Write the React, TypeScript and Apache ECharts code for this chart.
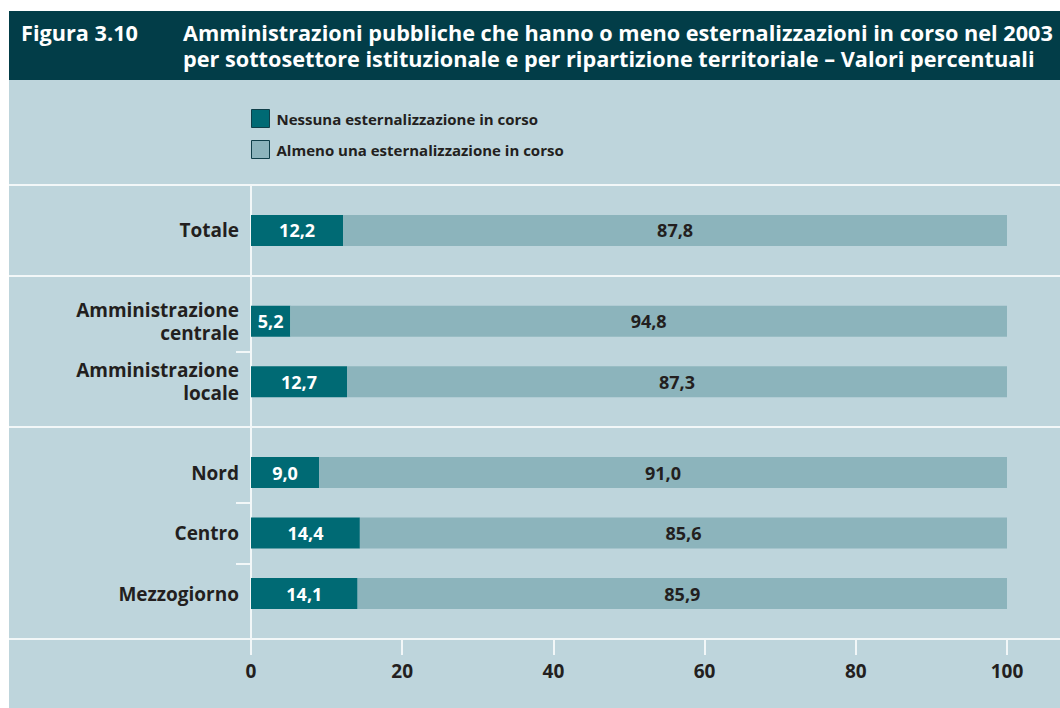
import React, { useEffect, useRef } from "react";
import * as echarts from "echarts";

// ---- data ----
const groups: string[][] = [
  ["Totale"],
  ["Amministrazione\ncentrale", "Amministrazione\nlocale"],
  ["Nord", "Centro", "Mezzogiorno"],
];
const nessuna = [12.2, 5.2, 12.7, 9.0, 14.4, 14.1];
const almeno = [87.8, 94.8, 87.3, 91.0, 85.6, 85.9];
const seriesNames = [
  "Nessuna esternalizzazione in corso",
  "Almeno una esternalizzazione in corso",
];
const xTicks = [0, 20, 40, 60, 80, 100];
const figLabel = "Figura 3.10";
const titleLines = [
  "Amministrazioni pubbliche che hanno o meno esternalizzazioni in corso nel 2003",
  "per sottosettore istituzionale e per ripartizione territoriale \u2013 Valori percentuali",
];

const FONT = "'Open Sans', 'Noto Sans', sans-serif";
const C_HEADER = "#023d48";
const C_PANEL = "#bed5dc";
const C_DARK = "#006a74";
const C_LIGHT = "#8cb4bc";
const C_LINE = "#f2f7f8";
const C_TEXT = "#231f20";

function buildSlots() {
  const slots: string[] = [];
  const slotItem: (number | null)[] = [];
  const groupStarts: number[] = [];
  const tickSlots: number[] = [];
  let k = 0;
  groups.forEach((g) => {
    groupStarts.push(slots.length);
    slots.push("_gap" + slots.length);
    slotItem.push(null);
    g.forEach((name, j) => {
      slots.push(name);
      slotItem.push(k++);
      if (j < g.length - 1) tickSlots.push(slots.length);
      slots.push("_gap" + slots.length);
      slotItem.push(null);
    });
  });
  return { slots, slotItem, groupStarts, tickSlots };
}

function measure(text: string, font: string) {
  const c = document.createElement("canvas").getContext("2d");
  if (!c) return 0;
  c.font = font;
  return c.measureText(text).width;
}

const fmt = (v: number) => v.toFixed(1).replace(".", ",");

export default function App() {
  const ref = useRef<HTMLDivElement>(null);
  useEffect(() => {
    if (!ref.current) return;
    const chart = echarts.init(ref.current, undefined, { renderer: "svg" });
    const { slots, slotItem, groupStarts, tickSlots } = buildSlots();
    const darkData = slotItem.map((i) => (i === null ? "-" : nessuna[i]));
    const lightData = slotItem.map((i) => (i === null ? "-" : almeno[i]));

    const w1 = measure(titleLines[0], `bold 20px ${FONT}`);
    let titleSize = w1 > 0 ? (20 * 870) / w1 : 19;
    titleSize = Math.max(15, Math.min(22, titleSize));

    chart.setOption({
      animation: false,
      backgroundColor: "#ffffff",
      textStyle: { fontFamily: FONT },
      legend: {
        orient: "vertical",
        left: 251,
        top: 109,
        padding: 0,
        itemWidth: 18,
        itemHeight: 18,
        itemGap: 12,
        icon: "rect",
        selectedMode: false,
        textStyle: {
          fontFamily: FONT,
          fontSize: 15,
          fontWeight: "bold",
          color: C_TEXT,
          lineHeight: 18,
          padding: [0, 0, 0, 2],
        },
        data: seriesNames.map((n) => ({
          name: n,
          itemStyle: { borderColor: "#0f3f49", borderWidth: 1 },
        })),
      },
      grid: { left: 251, right: 53, top: 185, bottom: 69, containLabel: false },
      xAxis: {
        type: "value",
        min: 0,
        max: 100,
        interval: 20,
        axisLine: { show: false },
        splitLine: { show: false },
        axisTick: { show: true, length: 16, lineStyle: { color: C_LINE, width: 2 } },
        axisLabel: {
          margin: 22,
          fontFamily: FONT,
          fontSize: 19,
          fontWeight: "bold",
          color: C_TEXT,
          formatter: (v: number) => (xTicks.includes(v) ? String(v) : ""),
        },
      },
      yAxis: {
        type: "category",
        inverse: true,
        data: slots,
        axisLine: { show: true, lineStyle: { color: C_LINE, width: 2 } },
        axisTick: {
          show: true,
          alignWithLabel: true,
          length: 15,
          interval: (i: number) => tickSlots.includes(i),
          lineStyle: { color: C_LINE, width: 2 },
        },
        axisLabel: {
          interval: 0,
          margin: 12,
          fontFamily: FONT,
          fontSize: 19,
          fontWeight: "bold",
          lineHeight: 23,
          color: C_TEXT,
          formatter: (v: string) => (v.startsWith("_gap") ? "" : v),
        },
        splitLine: { show: false },
      },
      series: [
        {
          name: seriesNames[0],
          type: "bar",
          stack: "tot",
          barWidth: 31,
          data: darkData,
          itemStyle: { color: C_DARK },
          label: {
            show: true,
            position: "inside",
            color: "#ffffff",
            fontFamily: FONT,
            fontSize: 18,
            fontWeight: "bold",
            formatter: (p: any) => fmt(p.value),
          },
        },
        {
          name: seriesNames[1],
          type: "bar",
          stack: "tot",
          barWidth: 31,
          data: lightData,
          itemStyle: { color: C_LIGHT },
          label: {
            show: true,
            position: "inside",
            color: C_TEXT,
            fontFamily: FONT,
            fontSize: 18,
            fontWeight: "bold",
            formatter: (p: any) => fmt(p.value),
          },
        },
      ],
    });

    // separator lines spanning the full panel, derived from category band positions
    const p0 = chart.convertToPixel({ yAxisIndex: 0 }, 0) as number;
    const p1 = chart.convertToPixel({ yAxisIndex: 0 }, 1) as number;
    const band = p1 - p0;
    const boundary = (k: number) => p0 + (k - 0.5) * band;
    const lineYs = [...groupStarts.map(boundary), boundary(slots.length)];

    chart.setOption({
      graphic: [
        { type: "rect", z: -10, shape: { x: 9, y: 11, width: 1060, height: 69 }, style: { fill: C_HEADER } },
        { type: "rect", z: -10, shape: { x: 9, y: 80, width: 1060, height: 640 }, style: { fill: C_PANEL } },
        ...lineYs.map((y) => ({
          type: "line",
          z: -5,
          shape: { x1: 9, y1: Math.round(y), x2: 1060, y2: Math.round(y) },
          style: { stroke: C_LINE, lineWidth: 2 },
        })),
        {
          type: "text",
          z: 10,
          x: 21,
          y: 32,
          style: {
            text: figLabel,
            fill: "#ffffff",
            font: `bold ${titleSize.toFixed(2)}px ${FONT}`,
            textVerticalAlign: "middle",
          },
        },
        ...titleLines.map((t, i) => ({
          type: "text",
          z: 10,
          x: 183,
          y: 32 + i * 26,
          style: {
            text: t,
            fill: "#ffffff",
            font: `bold ${titleSize.toFixed(2)}px ${FONT}`,
            textVerticalAlign: "middle",
          },
        })),
      ],
    });

    return () => chart.dispose();
  }, []);
  return (
    <div
      ref={ref}
      style={{ position: "fixed", left: 0, top: 0, width: 1060, height: 708 }}
    />
  );
}
